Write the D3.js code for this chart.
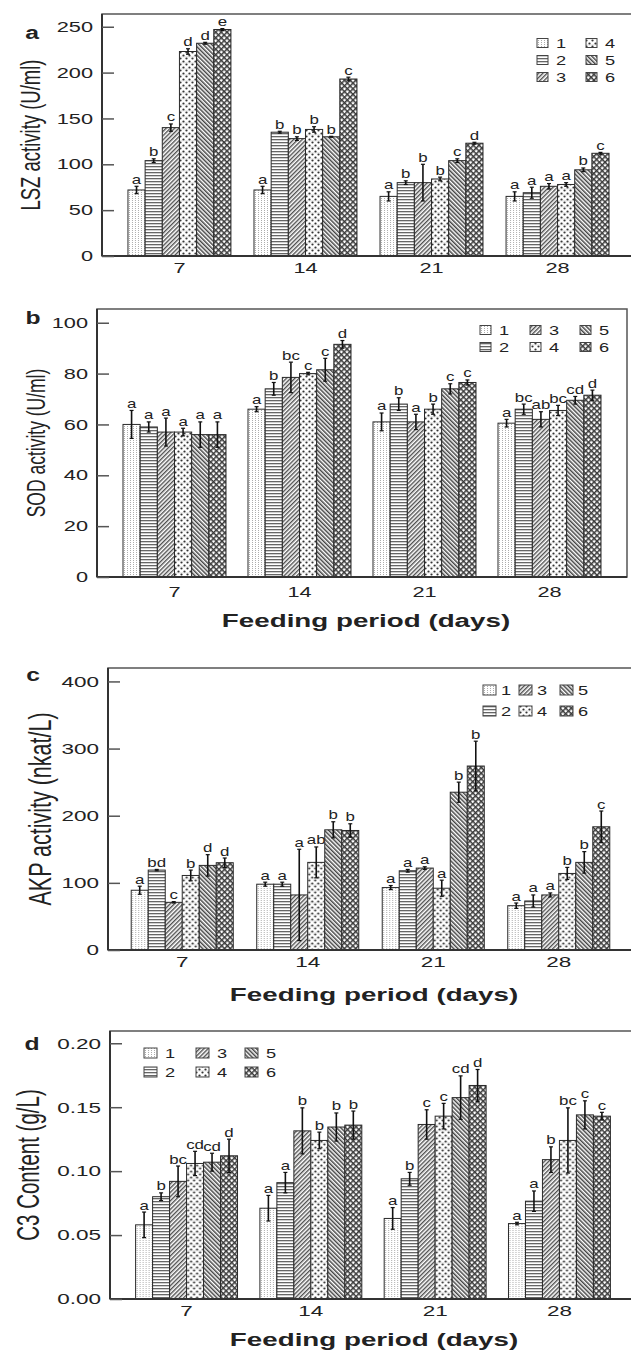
<!DOCTYPE html>
<html>
<head>
<meta charset="utf-8">
<script src="https://cdn.jsdelivr.net/npm/d3@7"></script>
<style>
  body { margin: 0; background: #fff; }
  svg { display: block; }
  text { font-family: "Liberation Sans", Arial, sans-serif; fill: #222; }
</style>
</head>
<body>
<svg id="chart" width="631" height="1351"></svg>
<script>
// feeding days and the six diet groups
const days = ['7', '14', '21', '28']
const groups = ['1', '2', '3', '4', '5', '6']

// a: LSZ activity (U/ml), one row per day
const lszMean = [[72, 104, 140, 223, 232, 247], [72, 135, 128, 138, 130, 193], [65, 80, 80, 84, 104, 123], [65, 69, 76, 78, 94, 112]]
const lszErr = [[4, 2, 4, 3, 1, 1], [4, 1, 2, 3, 0.5, 2], [5, 2, 20, 2, 2, 1], [5, 6, 3, 2, 2, 1]]
const lszSig = [['a', 'b', 'c', 'd', 'd', 'e'], ['a', 'b', 'b', 'b', 'b', 'c'], ['a', 'b', 'b', 'b', 'c', 'd'], ['a', 'a', 'a', 'a', 'b', 'c']]

// b: SOD activity (U/ml)
const sodMean = [[60, 59, 57, 57, 56, 56], [66, 74, 78.5, 80, 81.5, 91.5], [61, 68, 61, 66, 74, 76.5], [60.5, 66, 62, 65.5, 69.5, 71.5]]
const sodErr = [[5.5, 2, 5.5, 1.5, 5, 5], [1, 2.5, 6, 0.5, 4.5, 1.5], [3.5, 2.5, 3, 2, 2, 1], [1.5, 2, 3, 2, 1.5, 2]]
const sodSig = [['a', 'a', 'a', 'a', 'a', 'a'], ['a', 'b', 'bc', 'c', 'c', 'd'], ['a', 'b', 'a', 'b', 'c', 'c'], ['a', 'bc', 'ab', 'bc', 'cd', 'd']]

// c: AKP activity (nkat/L)
const akpMean = [[89, 119, 71, 111, 126, 130], [98, 98, 82, 130.5, 179, 178], [93, 118, 122, 92, 235, 274], [66, 73, 82, 114, 130.5, 183.5]]
const akpErr = [[6, 1, 1, 8, 16, 7], [3, 3, 68, 23, 12, 10], [3, 2, 2, 12, 15, 37], [4, 9, 3, 9, 16, 23.5]]
const akpSig = [['a', 'bd', 'c', 'b', 'd', 'd'], ['a', 'a', 'a', 'ab', 'b', 'b'], ['a', 'a', 'a', 'a', 'b', 'b'], ['a', 'a', 'a', 'b', 'b', 'c']]

// d: C3 content (g/L)
const c3Mean = [[0.058, 0.080, 0.092, 0.106, 0.107, 0.112], [0.071, 0.091, 0.1315, 0.124, 0.1345, 0.136], [0.063, 0.094, 0.1365, 0.143, 0.1575, 0.167], [0.059, 0.0765, 0.109, 0.124, 0.144, 0.143]]
const c3Err = [[0.010, 0.003, 0.012, 0.0095, 0.007, 0.013], [0.010, 0.008, 0.018, 0.0065, 0.011, 0.011], [0.0085, 0.005, 0.0115, 0.010, 0.017, 0.0125], [0.001, 0.008, 0.010, 0.0255, 0.011, 0.003]]
const c3Sig = [['a', 'b', 'bc', 'cd', 'cd', 'd'], ['a', 'a', 'b', 'b', 'b', 'b'], ['a', 'b', 'c', 'c', 'cd', 'd'], ['a', 'a', 'b', 'bc', 'c', 'c']]

const lszTicks = [0, 50, 100, 150, 200, 250]
const sodTicks = [0, 20, 40, 60, 80, 100]
const akpTicks = [0, 100, 200, 300, 400]
const c3Ticks = [0, 0.05, 0.10, 0.15, 0.20]

const SX = 1.5 // the original figure is stretched sideways

const svg = d3.select('#chart')
const defs = svg.append('defs')

function makePatterns () {
  // 1: faint dotted verticals
  let p = defs.append('pattern').attr('id', 'pat1').attr('patternUnits', 'userSpaceOnUse').attr('width', 3).attr('height', 2)
  p.append('rect').attr('width', 3).attr('height', 2).attr('fill', '#fff')
  p.append('rect').attr('x', 1).attr('width', 0.8).attr('height', 1).attr('fill', '#999')
  // 2: horizontal lines
  p = defs.append('pattern').attr('id', 'pat2').attr('patternUnits', 'userSpaceOnUse').attr('width', 4).attr('height', 3)
  p.append('rect').attr('width', 4).attr('height', 3).attr('fill', '#fff')
  p.append('rect').attr('y', 1).attr('width', 4).attr('height', 1.3).attr('fill', '#666')
  // 3: "/" hatch
  p = defs.append('pattern').attr('id', 'pat3').attr('patternUnits', 'userSpaceOnUse').attr('width', 3).attr('height', 3).attr('patternTransform', 'rotate(45)')
  p.append('rect').attr('width', 3).attr('height', 3).attr('fill', '#fff')
  p.append('rect').attr('width', 1.4).attr('height', 3).attr('fill', '#505050')
  // 4: sparse dots
  p = defs.append('pattern').attr('id', 'pat4').attr('patternUnits', 'userSpaceOnUse').attr('width', 6).attr('height', 6)
  p.append('rect').attr('width', 6).attr('height', 6).attr('fill', '#fff')
  p.append('rect').attr('x', 0).attr('y', 2.6).attr('width', 6).attr('height', 0.6).attr('fill', '#ccc')
  p.append('circle').attr('cx', 1.5).attr('cy', 1.5).attr('r', 1.1).attr('fill', '#333')
  p.append('circle').attr('cx', 4.5).attr('cy', 4.5).attr('r', 1.1).attr('fill', '#333')
  // 5: "\" hatch
  p = defs.append('pattern').attr('id', 'pat5').attr('patternUnits', 'userSpaceOnUse').attr('width', 3).attr('height', 3).attr('patternTransform', 'rotate(-45)')
  p.append('rect').attr('width', 3).attr('height', 3).attr('fill', '#fff')
  p.append('rect').attr('width', 1.5).attr('height', 3).attr('fill', '#444')
  // 6: cross hatch, white holes
  p = defs.append('pattern').attr('id', 'pat6').attr('patternUnits', 'userSpaceOnUse').attr('width', 4).attr('height', 4).attr('patternTransform', 'rotate(45)')
  p.append('rect').attr('width', 4).attr('height', 4).attr('fill', '#fff')
  p.append('rect').attr('width', 1.5).attr('height', 4).attr('fill', '#3a3a3a')
  p.append('rect').attr('width', 4).attr('height', 1.5).attr('fill', '#3a3a3a')
}

const fillFor = d3.scaleOrdinal().domain(groups).range(groups.map(g => 'url(#pat' + g + ')'))

// stretched text helper
function stext (sel, x, y, str, size, opts = {}) {
  const sx = opts.sx || SX
  let tf = `translate(${x},${y}) scale(${sx},1)`
  if (opts.rotate) tf += ' rotate(-90)'
  return sel.append('text')
    .attr('transform', tf)
    .attr('text-anchor', opts.anchor || 'middle')
    .attr('dy', opts.dy || null)
    .style('font-size', size + 'px')
    .style('font-weight', opts.bold ? 'bold' : 'normal')
    .text(str)
}

const panels = [
  {
    letter: 'a', mean: lszMean, err: lszErr, sig: lszSig, ticks: lszTicks, fmt: d3.format('d'),
    title: 'LSZ activity (U/ml)', yTop: 263.9,
    left: 102, right: 635, top: 14, bottom: 256, pi: 0.183, po: 0.206,
    tickFont: 14.5, titleFont: 18.5, titleX: 30, letterPos: [32, 39], xTickY: 273,
    xTitle: null,
    legend: { cols: [[0, 1, 2], [3, 4, 5]], xs: [537, 586], ys: [43, 60, 77], w: 11, h: 9, off: 19 }
  },
  {
    letter: 'b', mean: sodMean, err: sodErr, sig: sodSig, ticks: sodTicks, fmt: d3.format('d'),
    title: 'SOD activity (U/ml)', yTop: 105.4,
    left: 97, right: 627, top: 309, bottom: 577, pi: 0.176, po: 0.208,
    tickFont: 14.5, titleFont: 17.5, titleX: 36, letterPos: [33, 324], xTickY: 597,
    xTitle: [366, 627],
    legend: { cols: [[0, 1], [2, 3], [4, 5]], xs: [480, 530, 580], ys: [330, 347], w: 11, h: 9, off: 19 }
  },
  {
    letter: 'c', mean: akpMean, err: akpErr, sig: akpSig, ticks: akpTicks, fmt: d3.format('d'),
    title: 'AKP activity (nkat/L)', yTop: 420,
    left: 108, right: 633, top: 668, bottom: 950, pi: 0.187, po: 0.185,
    tickFont: 15, titleFont: 21.5, titleX: 40, letterPos: [33, 681], xTickY: 967,
    xTitle: [374, 1001],
    legend: { cols: [[0, 1], [2, 3], [4, 5]], xs: [483, 519, 560], ys: [690, 711], w: 13, h: 10, off: 18 }
  },
  {
    letter: 'd', mean: c3Mean, err: c3Err, sig: c3Sig, ticks: c3Ticks, fmt: d3.format('.2f'),
    title: 'C3 Content (g/L)', yTop: 0.2096,
    left: 110, right: 636, top: 1031, bottom: 1299, pi: 0.18, po: 0.206,
    tickFont: 15, titleFont: 20.5, titleX: 28, letterPos: [32, 1050], xTickY: 1316,
    xTitle: [374, 1346],
    legend: { cols: [[0, 1], [2, 3], [4, 5]], xs: [144, 196, 245], ys: [1053, 1072], w: 13, h: 10, off: 21 }
  }
]

function drawPanel (cfg) {
  const g = svg.append('g').attr('class', 'panel-' + cfg.letter)

  const x = d3.scaleBand().domain(days).range([cfg.left, cfg.right])
    .paddingInner(cfg.pi).paddingOuter(cfg.po)
  const xs = d3.scaleBand().domain(groups).range([0, x.bandwidth()])
  const y = d3.scaleLinear().domain([0, cfg.yTop]).range([cfg.bottom, cfg.top])

  // bars
  days.forEach((day, di) => {
    const dg = g.append('g').attr('transform', `translate(${x(day)},0)`)
    groups.forEach((grp, gi) => {
      const v = cfg.mean[di][gi]
      const e = cfg.err[di][gi]
      const cx = xs(grp) + xs.bandwidth() / 2
      dg.append('rect')
        .attr('x', xs(grp))
        .attr('y', y(v))
        .attr('width', xs.bandwidth())
        .attr('height', y(0) - y(v))
        .attr('fill', fillFor(grp))
        .attr('stroke', '#2a2a2a')
        .attr('stroke-width', 1)
      // error bar
      dg.append('line')
        .attr('x1', cx).attr('x2', cx)
        .attr('y1', y(v + e)).attr('y2', y(v - e))
        .attr('stroke', '#111').attr('stroke-width', 1.6)
      ;[v + e, v - e].forEach(t => {
        dg.append('line')
          .attr('x1', cx - 2).attr('x2', cx + 2)
          .attr('y1', y(t)).attr('y2', y(t))
          .attr('stroke', '#111').attr('stroke-width', 1.2)
      })
      stext(dg, cx, y(v + e) - 2.5, cfg.sig[di][gi], 12.5, { sx: 1.35 })
    })
  })

  // frame
  g.append('rect')
    .attr('x', cfg.left).attr('y', cfg.top)
    .attr('width', cfg.right - cfg.left).attr('height', cfg.bottom - cfg.top)
    .attr('fill', 'none').attr('stroke', '#555').attr('stroke-width', 1.5)
  g.append('line')
    .attr('x1', cfg.left).attr('x2', cfg.right)
    .attr('y1', cfg.bottom).attr('y2', cfg.bottom)
    .attr('stroke', '#333').attr('stroke-width', 2)
  g.append('line')
    .attr('x1', cfg.left).attr('x2', cfg.left)
    .attr('y1', cfg.top).attr('y2', cfg.bottom)
    .attr('stroke', '#333').attr('stroke-width', 2)

  // y axis, ticks pointing inward
  const yAxis = d3.axisLeft(y).tickValues(cfg.ticks).tickFormat(cfg.fmt)
    .tickSizeInner(-12).tickSizeOuter(0).tickPadding(9)
  const ya = g.append('g').attr('transform', `translate(${cfg.left},0)`).call(yAxis)
  ya.select('.domain').remove()
  ya.selectAll('.tick line').attr('stroke', '#555').attr('stroke-width', 1.5)
  ya.selectAll('.tick text')
    .attr('x', -9 / SX)
    .attr('transform', `scale(${SX},1)`)
    .style('font-size', cfg.tickFont + 'px')
    .style('font-family', '"Liberation Sans", Arial, sans-serif')
    .attr('fill', '#222')

  // x tick labels
  days.forEach(day => {
    stext(g, x(day) + x.bandwidth() / 2, cfg.xTickY, day, cfg.tickFont)
  })

  // titles
  stext(g, cfg.titleX, (cfg.top + cfg.bottom) / 2, cfg.title, cfg.titleFont, { rotate: true, dy: '0.35em' })
  if (cfg.xTitle) {
    stext(g, cfg.xTitle[0], cfg.xTitle[1], 'Feeding period (days)', 18.5, { bold: true })
  }
  stext(g, cfg.letterPos[0], cfg.letterPos[1], cfg.letter, 19, { bold: true, sx: 1.3 })

  // legend
  const lg = cfg.legend
  lg.cols.forEach((col, ci) => {
    col.forEach((gi, ri) => {
      const grp = groups[gi]
      const lx = lg.xs[ci]
      const ly = lg.ys[ri]
      g.append('rect')
        .attr('x', lx).attr('y', ly - lg.h / 2)
        .attr('width', lg.w).attr('height', lg.h)
        .attr('fill', fillFor(grp))
        .attr('stroke', '#444').attr('stroke-width', 1)
      stext(g, lx + lg.off, ly, grp, 13, { anchor: 'start', dy: '0.36em', sx: 1.4 })
    })
  })
}

makePatterns()
panels.forEach(drawPanel)
</script>
</body>
</html>
